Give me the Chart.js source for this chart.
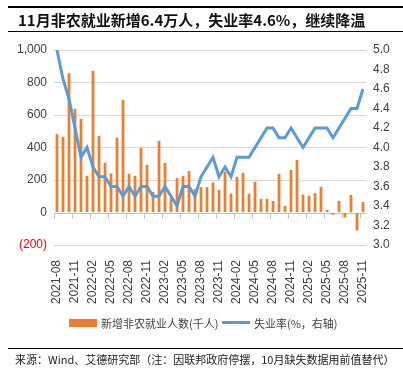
<!DOCTYPE html>
<html>
<head>
<meta charset="utf-8">
<script src="https://cdn.jsdelivr.net/npm/chart.js@4"></script>
<style>
    body { margin: 0; background: #fff; }
    #wrap { position: relative; width: 403px; height: 373px; overflow: hidden; font-family: "Noto Sans CJK SC", sans-serif; }
    #chart { position: absolute; left: 0; top: 0; }
    #title {
        position: absolute; left: 8px; top: 6px; width: 390px; height: 23px;
        border-top: 2px solid #000; border-bottom: 1px solid #000;
        font-weight: bold; font-size: 15px; line-height: 23px; color: #111;
        padding-left: 10px; box-sizing: content-box; white-space: nowrap;
    }
    .leg { position: absolute; font-size: 11px; line-height: 14px; color: #404040; white-space: nowrap; }
    #source {
        position: absolute; left: 8px; top: 348px; width: 390px;
        border-top: 1px solid #000; font-size: 11px; line-height: 20px; color: #222;
        padding-left: 7px; white-space: nowrap;
    }
</style>
</head>
<body>
<div id="wrap">
    <canvas id="chart" width="403" height="373"></canvas>
    <div id="title">11月非农就业新增6.4万人，失业率4.6%，继续降温</div>
    <div class="leg" style="left:69px;top:319px;width:28px;height:8px;background:#ED7D31;"></div>
    <div class="leg" style="left:101px;top:316px;">新增非农就业人数(千人)</div>
    <div class="leg" style="left:222px;top:321px;width:28px;height:3px;background:#5B9BD5;"></div>
    <div class="leg" style="left:254px;top:316px;">失业率(%，右轴)</div>
    <div id="source">来源：Wind、艾德研究部（注：因联邦政府停摆，10月缺失数据用前值替代）</div>
</div>
<script>
const months = [
    '2021-08', '2021-09', '2021-10', '2021-11', '2021-12',
    '2022-01', '2022-02', '2022-03', '2022-04', '2022-05', '2022-06', '2022-07', '2022-08', '2022-09', '2022-10', '2022-11', '2022-12',
    '2023-01', '2023-02', '2023-03', '2023-04', '2023-05', '2023-06', '2023-07', '2023-08', '2023-09', '2023-10', '2023-11', '2023-12',
    '2024-01', '2024-02', '2024-03', '2024-04', '2024-05', '2024-06', '2024-07', '2024-08', '2024-09', '2024-10', '2024-11', '2024-12',
    '2025-01', '2025-02', '2025-03', '2025-04', '2025-05', '2025-06', '2025-07', '2025-08', '2025-09', '2025-10', '2025-11'
];

// 新增非农就业人数(千人)
const payrolls = [
    482, 466, 857, 638, 576,
    226, 872, 472, 306, 240, 460, 693, 238, 226, 398, 293, 127,
    441, 305, 88, 212, 226, 255, 144, 156, 156, 185, 139, 252,
    116, 220, 244, 116, 189, 84, 84, 71, 238, 41, 262, 324,
    110, 103, 120, 158, 16, -13, 72, -29, 108, -111, 64
];

// 失业率(%)
const unemployment = [
    5.0, 4.7, 4.5, 4.2, 3.9,
    4.0, 3.8, 3.7, 3.7, 3.6, 3.6, 3.5, 3.6, 3.5, 3.6, 3.6, 3.5,
    3.5, 3.6, 3.5, 3.4, 3.6, 3.6, 3.5, 3.7, 3.8, 3.9, 3.7, 3.8,
    3.7, 3.9, 3.9, 3.9, 4.0, 4.1, 4.2, 4.2, 4.1, 4.1, 4.2, 4.1,
    4.0, 4.1, 4.2, 4.2, 4.2, 4.1, 4.2, 4.3, 4.4, 4.4, 4.6
];

const leftTicks = [-200, 0, 200, 400, 600, 800, 1000];
const rightTicks = [3.0, 3.2, 3.4, 3.6, 3.8, 4.0, 4.2, 4.4, 4.6, 4.8, 5.0];

const tickFont = { family: '"Liberation Sans", Arial, sans-serif', size: 12 };
const textColor = '#404040';

// axis line at 0 with tick marks every 3 months (like the excel original)
const zeroAxis = {
    id: 'zeroAxis',
    beforeDatasetsDraw(chart) {
        const { ctx, chartArea, scales } = chart;
        const x = scales.x;
        const y0 = Math.round(scales.y.getPixelForValue(0)) + 0.5;
        const half = (x.getPixelForValue(1) - x.getPixelForValue(0)) / 2;
        ctx.save();
        ctx.strokeStyle = '#bfbfbf';
        ctx.lineWidth = 1;
        ctx.beginPath();
        ctx.moveTo(chartArea.left, y0);
        ctx.lineTo(chartArea.right, y0);
        months.forEach((m, i) => {
            if (i % 3 === 0) {
                const px = Math.round(x.getPixelForValue(i) - half) + 0.5;
                ctx.moveTo(px, y0);
                ctx.lineTo(px, y0 + 5);
            }
        });
        ctx.stroke();
        ctx.restore();
    }
};

new Chart(document.getElementById('chart'), {
    data: {
        labels: months,
        datasets: [
            {
                type: 'line',
                label: '失业率(%，右轴)',
                data: unemployment,
                yAxisID: 'y1',
                borderColor: '#5B9BD5',
                borderWidth: 3,
                pointRadius: 0,
                tension: 0,
                order: 1
            },
            {
                type: 'bar',
                label: '新增非农就业人数(千人)',
                data: payrolls,
                yAxisID: 'y',
                backgroundColor: '#ED7D31',
                categoryPercentage: 1,
                barPercentage: 0.46,
                order: 2
            }
        ]
    },
    options: {
        responsive: false,
        animation: false,
        layout: { padding: { top: 50, left: 0, right: 0, bottom: 0 } },
        plugins: {
            legend: { display: false },
            tooltip: { enabled: false }
        },
        scales: {
            x: {
                grid: { display: false },
                border: { display: false },
                ticks: {
                    autoSkip: false,
                    minRotation: 90,
                    maxRotation: 90,
                    padding: 7,
                    font: tickFont,
                    color: textColor,
                    callback: (v, i) => (i % 3 === 0 ? months[i] : '')
                },
                afterFit: (s) => { s.height = 128; }
            },
            y: {
                position: 'left',
                min: leftTicks[0],
                max: leftTicks[leftTicks.length - 1],
                afterBuildTicks: (s) => { s.ticks = leftTicks.map(v => ({ value: v })); },
                grid: {
                    drawTicks: false,
                    color: (c) => (c.tick && c.tick.value === 0 ? 'rgba(0,0,0,0)' : '#d9d9d9')
                },
                border: { display: false },
                ticks: {
                    padding: 7,
                    font: tickFont,
                    color: (c) => (c.tick && c.tick.value < 0 ? '#ff0000' : textColor),
                    callback: (v) => (v < 0 ? '(' + Math.abs(v) + ')' : v.toLocaleString('en-US'))
                },
                afterFit: (s) => { s.width = 54; }
            },
            y1: {
                position: 'right',
                min: rightTicks[0],
                max: rightTicks[rightTicks.length - 1],
                afterBuildTicks: (s) => { s.ticks = rightTicks.map(v => ({ value: v })); },
                grid: { drawOnChartArea: false, drawTicks: false },
                border: { display: false },
                ticks: {
                    padding: 7,
                    font: tickFont,
                    color: textColor,
                    callback: (v) => Number(v).toFixed(1)
                },
                afterFit: (s) => { s.width = 37; }
            }
        }
    },
    plugins: [zeroAxis]
});
</script>
</body>
</html>
